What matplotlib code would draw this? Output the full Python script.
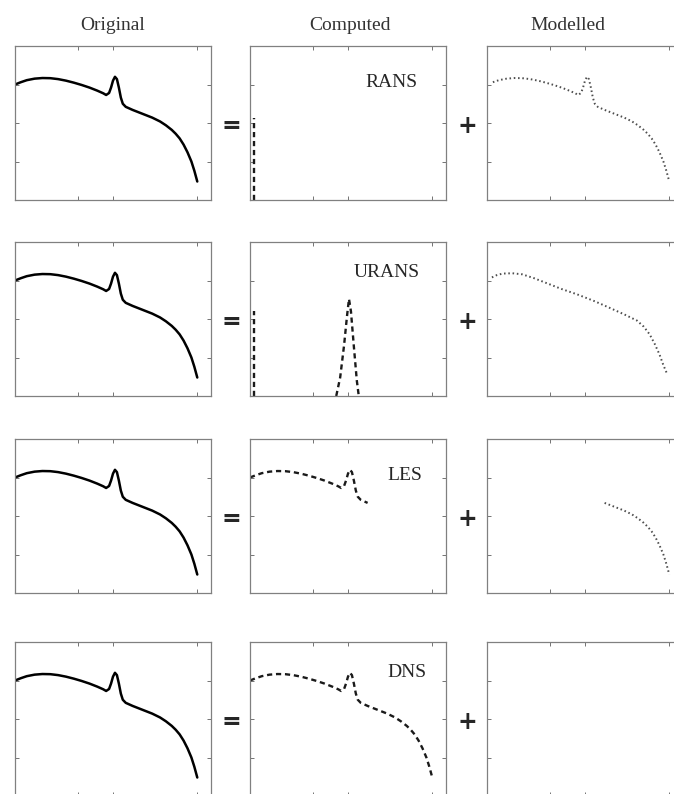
import numpy as np
import matplotlib
matplotlib.use("Agg")
import matplotlib.pyplot as plt

# =============================================================================
# Data (axes fractions, 0..1)
# =============================================================================
orig_x = [0.00, 0.03, 0.06, 0.10, 0.14, 0.18, 0.22, 0.26, 0.30, 0.34, 0.38,
          0.42, 0.45, 0.465, 0.48, 0.49, 0.50, 0.51, 0.52, 0.53, 0.54, 0.55,
          0.565, 0.60, 0.65, 0.70, 0.74, 0.77, 0.80, 0.82, 0.84, 0.86, 0.88,
          0.90, 0.915, 0.93]
orig_y = [0.75, 0.765, 0.778, 0.788, 0.792, 0.791, 0.785, 0.775, 0.762, 0.747, 0.73,
          0.71, 0.693, 0.682, 0.695, 0.73, 0.775, 0.80, 0.785, 0.73, 0.665, 0.625,
          0.605, 0.585, 0.56, 0.535, 0.51, 0.485, 0.455, 0.43, 0.40, 0.36, 0.31,
          0.25, 0.19, 0.12]

# mean-flow part (delta at k ~ 0)
mean_x = [0.02, 0.02]
rans_mean_y = [0.0, 0.53]
urans_mean_y = [0.0, 0.55]

# resolved unsteady peak of URANS
urans_peak_x = [0.44, 0.46, 0.48, 0.495, 0.505, 0.515, 0.53, 0.545, 0.555]
urans_peak_y = [0.0, 0.12, 0.33, 0.52, 0.63, 0.55, 0.32, 0.10, 0.0]

# modelled part of URANS (spectrum without the peak)
urans_mod_x = [0.025, 0.05, 0.08, 0.13, 0.18, 0.24, 0.31, 0.38, 0.46, 0.55, 0.63,
               0.70, 0.765, 0.80, 0.83, 0.855, 0.88, 0.90, 0.92]
urans_mod_y = [0.77, 0.785, 0.795, 0.797, 0.79, 0.765, 0.73, 0.695, 0.66, 0.615, 0.57,
               0.53, 0.49, 0.45, 0.40, 0.34, 0.27, 0.20, 0.14]

les_cut = 0.60   # LES filter cut-off
row_names = ["RANS", "URANS", "LES", "DNS"]
col_names = ["Original", "Computed", "Modelled"]

orig_x = np.array(orig_x)
orig_y = np.array(orig_y)

# =============================================================================
# Layout (pixels of a 674x794 figure)
# =============================================================================
W, H = 674, 794
fig = plt.figure(figsize=(W / 100, H / 100), dpi=100)

col_left = [15, 250, 487]
row_top = [46, 242, 439, 642]
pw, ph = 196, 154


def add_panel(left, top):
    ax = fig.add_axes([left / W, 1 - (top + ph) / H, pw / W, ph / H])
    ax.set_xlim(0, 1)
    ax.set_ylim(0, 1)
    ax.set_xticks([0.32, 0.5, 0.93])
    ax.set_yticks([0.25, 0.5, 0.75])
    ax.tick_params(direction="in", length=3, width=0.7, colors="0.45",
                   top=True, right=True, labelleft=False, labelbottom=False)
    for s in ax.spines.values():
        s.set_color("0.5")
        s.set_linewidth(0.9)
        s.set_linestyle((0, (4, 1)))
    return ax


solid = dict(color="black", lw=1.8, solid_capstyle="round", solid_joinstyle="round")
dashed = dict(color="0.1", lw=1.7, linestyle=(0, (2.2, 1.6)))
dotted = dict(color="0.3", lw=1.4, linestyle=(0, (0.8, 1.4)))

for r, name in enumerate(row_names):
    axes = [add_panel(col_left[c], row_top[r]) for c in range(3)]
    a_orig, a_comp, a_mod = axes

    a_orig.plot(orig_x, orig_y, **solid)

    if name == "RANS":
        a_comp.plot(mean_x, rans_mean_y, **dashed)
        a_mod.plot(orig_x[1:], orig_y[1:], **dotted)
        tx, ty = 0.72, 0.76
    elif name == "URANS":
        a_comp.plot(mean_x, urans_mean_y, **dashed)
        a_comp.plot(urans_peak_x, urans_peak_y, **dashed)
        a_mod.plot(urans_mod_x, urans_mod_y, **dotted)
        tx, ty = 0.70, 0.80
    elif name == "LES":
        m = orig_x <= les_cut
        a_comp.plot(orig_x[m], orig_y[m], **dashed)
        a_mod.plot(orig_x[orig_x >= les_cut], orig_y[orig_x >= les_cut], **dotted)
        tx, ty = 0.79, 0.76
    else:
        a_comp.plot(orig_x, orig_y, **dashed)
        tx, ty = 0.80, 0.80

    a_comp.text(tx, ty, name, transform=a_comp.transAxes, ha="center", va="center",
                family="Liberation Serif", fontsize=14, color="0.15")

    yc = 1 - (row_top[r] + 80) / H
    fig.text(231 / W, yc, "=", ha="center", va="center", fontsize=17,
             fontweight="bold", color="0.15")
    fig.text(467 / W, yc, "+", ha="center", va="center", fontsize=17,
             fontweight="bold", color="0.15")

# column headers
for cx, label in zip([113, 350, 568], col_names):
    fig.text(cx / W, 1 - 25 / H, label, ha="center", va="center",
             family="Liberation Serif", fontsize=14, color="0.2")

fig.savefig("out.png", dpi=100, facecolor="white")
